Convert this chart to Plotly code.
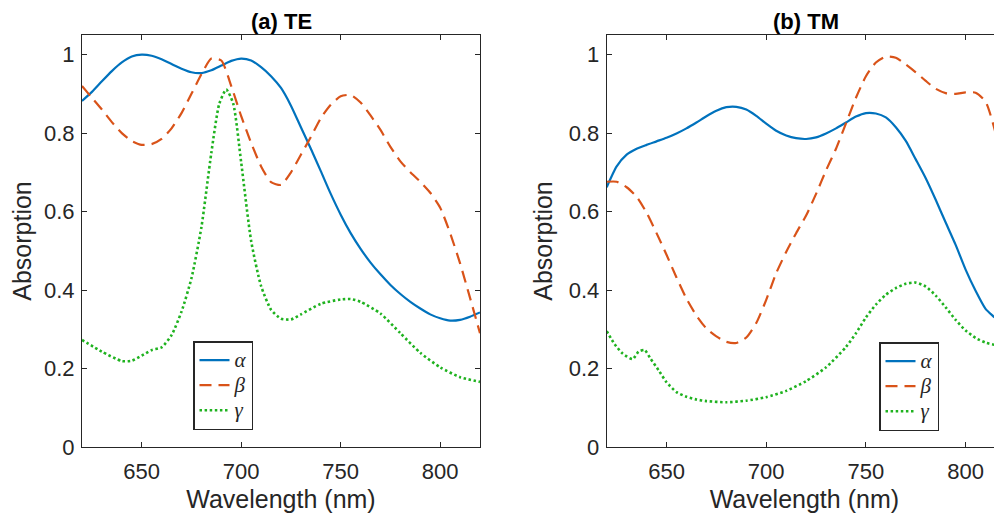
import plotly.graph_objects as go

# ---------------- data ----------------
wavelength = [620, 625, 630, 635, 640, 645, 650, 655, 660, 665, 670, 675, 680, 685, 690,
              695, 700, 705, 710, 715, 720, 725, 730, 735, 740, 745, 750, 755, 760, 765,
              770, 775, 780, 785, 790, 795, 800, 805, 810, 815, 820]

te_alpha = [0.882, 0.905, 0.932, 0.958, 0.980, 0.995, 1.000, 0.997, 0.988, 0.976, 0.964,
            0.955, 0.953, 0.960, 0.972, 0.984, 0.990, 0.985, 0.968, 0.945, 0.915, 0.870,
            0.815, 0.760, 0.703, 0.645, 0.592, 0.545, 0.505, 0.470, 0.440, 0.413, 0.390,
            0.370, 0.353, 0.338, 0.328, 0.322, 0.324, 0.332, 0.343]

te_beta = [0.920, 0.890, 0.860, 0.828, 0.800, 0.780, 0.770, 0.772, 0.785, 0.812, 0.851,
           0.900, 0.950, 0.990, 0.985, 0.920, 0.843, 0.775, 0.715, 0.675, 0.668, 0.700,
           0.745, 0.790, 0.838, 0.872, 0.894, 0.897, 0.878, 0.845, 0.808, 0.765, 0.728,
           0.700, 0.676, 0.648, 0.610, 0.545, 0.468, 0.380, 0.290]

wl_te_gamma = [620, 630, 640, 645, 650, 655, 660, 665, 670, 675, 680, 685, 689, 692.5, 696,
               700, 705, 710, 715, 720, 725, 730, 740, 750, 755, 760, 770, 780, 790, 800,
               810, 820]
te_gamma = [0.273, 0.243, 0.219, 0.220, 0.233, 0.247, 0.254, 0.285, 0.345, 0.430, 0.560,
            0.750, 0.875, 0.911, 0.875, 0.725, 0.525, 0.410, 0.350, 0.327, 0.325, 0.338,
            0.365, 0.376, 0.377, 0.370, 0.340, 0.290, 0.240, 0.203, 0.178, 0.166]

tm_alpha = [0.662, 0.715, 0.745, 0.760, 0.770, 0.779, 0.788, 0.799, 0.812, 0.827, 0.843,
            0.857, 0.866, 0.867, 0.860, 0.844, 0.824, 0.806, 0.794, 0.787, 0.785, 0.789,
            0.799, 0.812, 0.827, 0.842, 0.851, 0.850, 0.840, 0.815, 0.780, 0.733, 0.685,
            0.630, 0.572, 0.515, 0.452, 0.398, 0.352, 0.328, 0.300]

tm_beta = [0.676, 0.676, 0.662, 0.638, 0.597, 0.545, 0.490, 0.432, 0.378, 0.335, 0.302,
           0.282, 0.268, 0.265, 0.279, 0.316, 0.375, 0.443, 0.497, 0.545, 0.590, 0.645,
           0.705, 0.760, 0.825, 0.890, 0.945, 0.980, 0.995, 0.992, 0.975, 0.955, 0.933,
           0.913, 0.902, 0.900, 0.904, 0.903, 0.880, 0.800, 0.640]

wl_tm_gamma = [620, 624, 628, 633, 636, 639, 642, 646, 650, 655, 660, 665, 670, 680, 690,
               700, 710, 720, 730, 740, 745, 750, 755, 760, 765, 770, 775, 780, 785, 790,
               795, 800, 805, 810, 815, 820]
tm_gamma = [0.295, 0.262, 0.238, 0.224, 0.243, 0.247, 0.225, 0.196, 0.165, 0.140, 0.128,
            0.121, 0.117, 0.114, 0.118, 0.127, 0.143, 0.168, 0.203, 0.255, 0.290, 0.330,
            0.363, 0.388, 0.405, 0.416, 0.419, 0.409, 0.386, 0.356, 0.324, 0.297, 0.278,
            0.266, 0.260, 0.262]

series_names = ["α", "β", "γ"]
panel_titles = ["<b>(a) TE</b>", "<b>(b) TM</b>"]
x_ticks = [650, 700, 750, 800]
y_ticks = [0, 0.2, 0.4, 0.6, 0.8, 1.0]
y_ticklabels = ["0", "0.2", "0.4", "0.6", "0.8", "1"]

# ---------------- style ----------------
OFF = 8                      # page body margin of the html page
WIN_W, WIN_H = 1002, 519
W, H = WIN_W - OFF, WIN_H - OFF


def px(xw):                  # window x pixel -> paper fraction
    return (xw - OFF) / W


def py(yw):                  # window y pixel -> paper fraction
    return 1 - (yw - OFF) / H


BLUE, ORANGE, GREEN = "#0072BD", "#D95319", "#1FB21F"
AX = "#262626"
SANS = "Liberation Sans, Arial, Helvetica, sans-serif"
SERIF = "Liberation Serif, Times New Roman, serif"

styles = [dict(color=BLUE, width=2.2, dash="solid"),
          dict(color=ORANGE, width=2.2, dash="12px,7px"),
          dict(color=GREEN, width=2.6, dash="2.5px,2.6px")]

fig = go.Figure()

panels = [
    ("x", "y", "legend", [(wavelength, te_alpha), (wavelength, te_beta), (wl_te_gamma, te_gamma)]),
    ("x2", "y2", "legend2", [(wavelength, tm_alpha), (wavelength, tm_beta), (wl_tm_gamma, tm_gamma)]),
]
for xa, ya, lg, data in panels:
    for (xs, ys), name, st in zip(data, series_names, styles):
        fig.add_trace(go.Scatter(x=xs, y=ys, mode="lines", xaxis=xa, yaxis=ya, legend=lg,
                                 name="<span style='font-size:21px'><i>" + name + "</i></span>",
                                 line=dict(shape="spline", smoothing=0.6, **st)))

ydom = [py(447), py(35)]
left_dom = [px(82), px(480)]
right_dom = [px(606.7), 1.0]
right_max = 620 + (WIN_W - 606.7) / 1.994

common_x = dict(tickvals=x_ticks, ticks="inside", ticklen=5, tickwidth=1, tickcolor=AX,
                showline=True, linecolor=AX, linewidth=1, mirror="ticks", showgrid=False,
                zeroline=False, tickfont=dict(family=SANS, size=22, color=AX),
                title=dict(text="Wavelength (nm)", font=dict(family=SANS, size=25, color=AX),
                           standoff=7),
                automargin=False, ticklabelstandoff=5)
common_y = dict(tickvals=y_ticks, ticktext=y_ticklabels, range=[0, 1.05], domain=ydom,
                ticks="inside", ticklen=5, tickwidth=1, tickcolor=AX, showline=True,
                linecolor=AX, linewidth=1, mirror="ticks", showgrid=False, zeroline=False,
                tickfont=dict(family=SANS, size=22, color=AX),
                title=dict(text="Absorption", font=dict(family=SANS, size=25, color=AX),
                           standoff=8),
                automargin=False, ticklabelstandoff=2)

legend_common = dict(bgcolor="white", bordercolor=AX, borderwidth=1.5,
                     font=dict(family=SERIF, size=17, color=AX), itemwidth=30,
                     tracegroupgap=0, xanchor="left", yanchor="top")

fig.update_layout(
    width=W, height=H, margin=dict(l=0, r=0, t=0, b=0),
    paper_bgcolor="white", plot_bgcolor="white",
    xaxis=dict(domain=left_dom, range=[620, 820], anchor="y", **common_x),
    yaxis=dict(anchor="x", **common_y),
    xaxis2=dict(domain=right_dom, range=[620, right_max], anchor="y2", **common_x),
    yaxis2=dict(anchor="x2", **common_y),
    legend=dict(x=px(193), y=py(341), **legend_common),
    legend2=dict(x=px(879), y=py(342), **legend_common),
    showlegend=True,
    annotations=[
        dict(text=panel_titles[0], x=px(281), y=1.0, xref="paper", yref="paper",
             xanchor="center", yanchor="top", showarrow=False, borderpad=0,
             font=dict(family=SANS, size=22, color="black")),
        dict(text=panel_titles[1], x=px(805.5), y=1.0, xref="paper", yref="paper",
             xanchor="center", yanchor="top", showarrow=False, borderpad=0,
             font=dict(family=SANS, size=22, color="black")),
    ],
)

fig.write_html("out.html")
